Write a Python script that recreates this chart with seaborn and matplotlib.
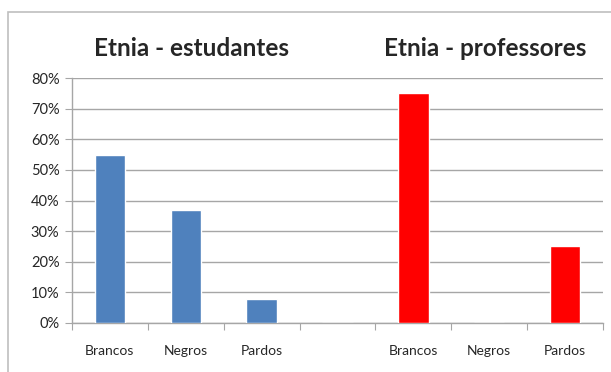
import matplotlib
matplotlib.use("Agg")
import matplotlib.pyplot as plt
import seaborn as sns
import pandas as pd
import numpy as np
from matplotlib.patches import Rectangle
from matplotlib.ticker import FuncFormatter

categories = ["Brancos", "Negros", "Pardos", "", "Brancos", "Negros", "Pardos"]
groups = ["estudantes", "estudantes", "estudantes", "gap", "professores", "professores", "professores"]
values = [55, 37, 8, 0, 75, 0, 25]
titles = ["Etnia - estudantes", "Etnia - professores"]
yticks = [0, 10, 20, 30, 40, 50, 60, 70, 80]

keys = [f"{c}_{i}" for i, c in enumerate(categories)]
df = pd.DataFrame({"key": keys, "value": values, "group": groups})

sns.set_style("white")
plt.rcParams['font.family'] = ['Lato', 'DejaVu Sans']

fig = plt.figure(figsize=(6.11, 3.72), dpi=100)
ax = fig.add_axes([72/611, 1-323/372, (603-72)/611, (323-78)/372])

palette = {"estudantes": "#4F81BD", "gap": "#FFFFFF", "professores": "#FF0000"}
sns.barplot(data=df, x="key", y="value", hue="group", palette=palette,
            order=keys, dodge=False, width=0.4, legend=False, ax=ax,
            saturation=1, zorder=3)

ax.set_xlim(-0.5, len(keys) - 0.5)
ax.set_ylim(0, 80)
ax.set_yticks(yticks)
ax.yaxis.set_major_formatter(FuncFormatter(lambda v, p: f"{int(v)}%"))
ax.grid(axis="y", color="#A6A6A6", linewidth=1, zorder=0)
ax.set_axisbelow(True)

ax.set_xticks(np.arange(-0.5, len(keys), 1.0))
ax.set_xticklabels([])
ax.set_xticks(np.arange(len(keys)), minor=True)
ax.set_xticklabels(categories, minor=True, fontsize=10)
ax.tick_params(axis="x", which="major", length=5, color="#A6A6A6", direction="out", bottom=True)
ax.tick_params(axis="x", which="minor", length=0, pad=16)
ax.tick_params(axis="y", length=5, color="#A6A6A6", direction="out", left=True, labelsize=10.5, pad=4)
ax.set_xlabel("")
ax.set_ylabel("")

for s in ["top", "right"]:
    ax.spines[s].set_visible(False)
for s in ["left", "bottom"]:
    ax.spines[s].set_color("#A6A6A6")
    ax.spines[s].set_linewidth(1)

fig.text(191/611, 1-48/372, titles[0], ha="center", va="center", fontsize=17.5, fontweight="bold")
fig.text(485/611, 1-48/372, titles[1], ha="center", va="center", fontsize=17.5, fontweight="bold")

fig.patches.append(Rectangle((8/611, -0.1), 1.2, 1 - 12/372 + 0.1, transform=fig.transFigure,
                             fill=False, edgecolor="#BFBFBF", linewidth=1.2))

fig.savefig("out.png", dpi=100)
